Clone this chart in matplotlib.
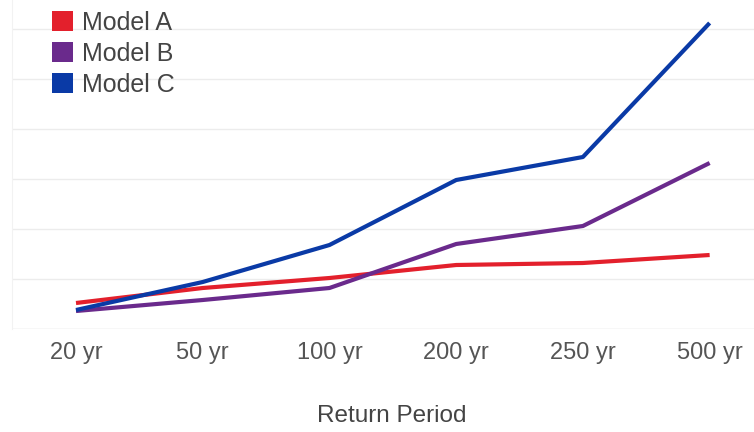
import matplotlib.pyplot as plt
from matplotlib.patches import Patch

periods = ['20 yr', '50 yr', '100 yr', '200 yr', '250 yr', '500 yr']
model_a = [26, 41, 51, 64, 66, 74]
model_b = [18, 29, 41, 85, 103, 166]
model_c = [19, 47, 84, 149, 172, 306]

names = ['Model A', 'Model B', 'Model C']
colors = ['#e3202c', '#6a2a8c', '#0a3aa6']

plt.rcParams['font.family'] = ['Liberation Sans', 'DejaVu Sans']

fig = plt.figure(figsize=(7.54, 4.32), dpi=100)
# axes box in pixels: left 12, right 754, bottom at y=329, top at y=0
ax = fig.add_axes([12 / 754, (432 - 329) / 432, 742 / 754, 329 / 432])

x = list(range(len(periods)))
for vals, c in zip([model_a, model_b, model_c], colors):
    ax.plot(x, vals, color=c, lw=3.0, solid_capstyle='butt', solid_joinstyle='round', zorder=3)

ax.set_xlim(-0.505, 5.35)
ax.set_ylim(0, 329)
ax.set_yticks([0, 50, 100, 150, 200, 250, 300])
ax.yaxis.grid(True, color='#ececec', lw=1)
ax.set_yticklabels([])
ax.tick_params(axis='y', length=0)
ax.set_xticks(x)
ax.set_xticklabels(periods, fontsize=17, color='#555555')
ax.tick_params(axis='x', length=0, pad=9)
for s in ['top', 'right', 'bottom']:
    ax.spines[s].set_visible(False)
ax.spines['left'].set_color('#f2f2f2')
ax.axhline(0, color='#e6e6e6', lw=1, zorder=1)

fig.text(392 / 754, 1 - 416 / 432, 'Return Period', fontsize=17.5, color='#444444',
         ha='center', va='center')

handles = [Patch(facecolor=c, edgecolor='none') for c in colors]
leg = fig.legend(handles, names, loc='upper left', bbox_to_anchor=(42 / 754, 1 - 1 / 432),
                 frameon=False, fontsize=18, handlelength=0.85, handleheight=0.85,
                 handletextpad=0.35, labelspacing=0.27, borderaxespad=0)
for t in leg.get_texts():
    t.set_color('#444444')

fig.savefig('out.png', dpi=100)
